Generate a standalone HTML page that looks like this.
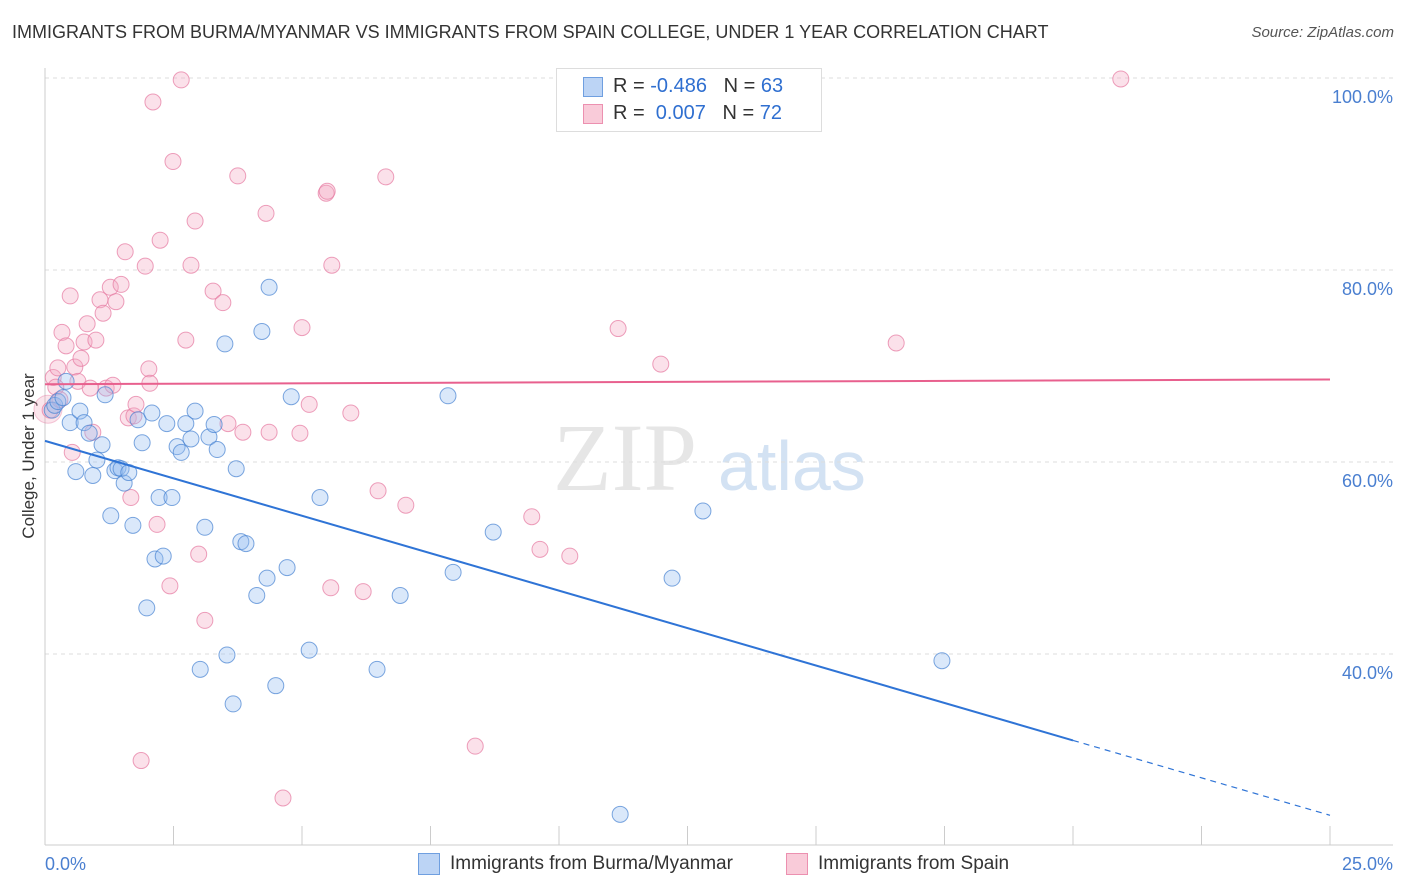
<!DOCTYPE html>
<html><head><meta charset="utf-8"><style>
body{margin:0;background:#fff;font-family:"Liberation Sans",sans-serif;}
#wrap{position:relative;width:1406px;height:892px;overflow:hidden;}
.t{position:absolute;white-space:nowrap;}
</style></head><body>
<div id="wrap">
<div class="t" style="left:12px;top:22px;font-size:18px;color:#333;">IMMIGRANTS FROM BURMA/MYANMAR VS IMMIGRANTS FROM SPAIN COLLEGE, UNDER 1 YEAR CORRELATION CHART</div>
<div class="t" style="right:12px;top:24px;font-size:15px;color:#555;font-style:italic;">Source: ZipAtlas.com</div>
<svg id="svg" width="1406" height="892" style="position:absolute;left:0;top:0"></svg>
</div>
<script>
const yTicks=[100,80,60,40];
const xTickLabels=["0.0%","25.0%"];
const blueX=[0.14,0.19,0.25,0.35,0.41,0.49,0.6,0.68,0.76,0.86,0.93,1.01,1.11,1.17,1.28,1.36,1.42,1.48,1.54,1.63,1.71,1.81,1.89,1.98,2.08,2.14,2.22,2.3,2.37,2.47,2.57,2.65,2.74,2.84,2.92,3.02,3.11,3.19,3.29,3.35,3.54,3.5,3.66,3.72,3.81,3.91,4.12,4.22,4.32,4.36,4.49,4.71,4.79,5.14,5.35,6.46,6.91,7.84,7.94,8.72,11.19,12.2,12.8,17.45];
const blueY=[65.4,65.9,66.3,66.7,68.4,64.1,59.0,65.3,64.1,63.0,58.6,60.2,61.8,67.0,54.4,59.1,59.4,59.3,57.8,58.9,53.4,64.4,62.0,44.8,65.1,49.9,56.3,50.2,64.0,56.3,61.6,61.0,64.0,62.4,65.3,38.4,53.2,62.6,63.9,61.3,39.9,72.3,34.8,59.3,51.7,51.5,46.1,73.6,47.9,78.2,36.7,49.0,66.8,40.4,56.3,38.4,46.1,66.9,48.5,52.7,23.3,47.9,54.9,39.3];
const pinkX=[0.1,0.16,0.21,0.25,0.29,0.33,0.41,0.49,0.53,0.58,0.64,0.7,0.76,0.82,0.88,0.93,0.99,1.07,1.13,1.19,1.27,1.32,1.38,1.48,1.56,1.62,1.67,1.73,1.77,1.87,1.95,2.02,2.04,2.1,2.18,2.24,2.43,2.49,2.65,2.74,2.84,2.92,2.99,3.11,3.27,3.46,3.56,3.75,3.85,4.3,4.36,4.63,4.96,5.0,5.14,5.47,5.49,5.56,5.58,5.95,6.19,6.48,6.63,7.02,8.37,9.47,9.63,10.21,11.15,11.98,16.56,20.93];
const pinkY=[65.4,68.8,67.8,69.8,66.5,73.5,72.1,77.3,61.0,69.9,68.4,70.8,72.5,74.4,67.7,63.1,72.7,76.9,75.5,67.7,78.2,68.0,76.7,78.5,81.9,64.6,56.3,64.8,66.0,28.9,80.4,69.7,68.2,97.5,53.5,83.1,47.1,91.3,99.8,72.7,80.5,85.1,50.4,43.5,77.8,76.6,64.0,89.8,63.1,85.9,63.1,25.0,63.0,74.0,66.0,88.0,88.2,46.9,80.5,65.1,46.5,57.0,89.7,55.5,30.4,54.3,50.9,50.2,73.9,70.2,72.4,99.9];
const blueTrend=[62.2,23.2], pinkTrend=[68.1,68.6];
const X0=45,X1=1330,XMAX=25;
const xs=v=>X0+(v/XMAX)*(X1-X0);
const ys=v=>270+(80-v)*9.6;
const svg=document.getElementById('svg');
const NS='http://www.w3.org/2000/svg';
function el(tag,attrs,parent){const e=document.createElementNS(NS,tag);for(const k in attrs)e.setAttribute(k,attrs[k]);(parent||svg).appendChild(e);return e;}
const wm=el('text',{x:553,y:490,'font-size':96,'font-family':'Liberation Serif,serif',fill:'#e6e6e6'});wm.textContent='ZIP';


const wm2=el('text',{x:718,y:490,'font-size':70,'font-family':'Liberation Sans,sans-serif',fill:'#d3e2f3'});wm2.textContent='atlas';


yTicks.forEach(v=>{
 const l=el('line',{x1:X0,x2:1393,y1:ys(v),y2:ys(v),stroke:'#ddd','stroke-dasharray':'4,4'});
 
 
 const t=el('text',{x:1393,y:ys(v)+25,'text-anchor':'end','font-size':18,fill:'#4a7fd0'});t.textContent=v.toFixed(1)+'%';
 
 
});
const ax=el('line',{x1:X0,x2:X0,y1:68,y2:845,stroke:'#ccc'});


const bx=el('line',{x1:X0,x2:1393,y1:845,y2:845,stroke:'#ccc'});


for(let i=0;i<=10;i++){const tk=el('line',{x1:xs(i*2.5),x2:xs(i*2.5),y1:826,y2:845,stroke:'#ccc'});

}
const xl0=el('text',{x:45,y:870,'font-size':18,fill:'#4a7fd0'});xl0.textContent=xTickLabels[0];


const xl1=el('text',{x:1393,y:870,'text-anchor':'end','font-size':18,fill:'#4a7fd0'});xl1.textContent=xTickLabels[1];


const yt=el('text',{x:34,y:456,'font-size':17,fill:'#333','text-anchor':'middle',transform:'rotate(-90 34 456)'});yt.textContent='College, Under 1 year';


const bb1=el('circle',{cx:48,cy:ys(65.5),r:14,fill:'rgba(240,150,180,0.25)',stroke:'rgba(230,120,160,0.4)'});


pinkX.forEach((x,i)=>{const c=el('circle',{cx:xs(x),cy:ys(pinkY[i]),r:8,fill:'rgba(244,170,195,0.35)',stroke:'rgba(230,120,160,0.7)','stroke-width':1});

});
blueX.forEach((x,i)=>{const c=el('circle',{cx:xs(x),cy:ys(blueY[i]),r:8,fill:'rgba(150,190,240,0.35)',stroke:'rgba(70,130,210,0.7)','stroke-width':1});

});
const bSolidEnd=20;
const bAt=v=>blueTrend[0]+(blueTrend[1]-blueTrend[0])*v/XMAX;
const tl1=el('line',{x1:xs(0),y1:ys(bAt(0)),x2:xs(bSolidEnd),y2:ys(bAt(bSolidEnd)),stroke:'#2f74d6','stroke-width':2});


const tl2=el('line',{x1:xs(bSolidEnd),y1:ys(bAt(bSolidEnd)),x2:xs(25),y2:ys(bAt(25)),stroke:'#2f74d6','stroke-width':1.2,'stroke-dasharray':'6,5'});


const tl3=el('line',{x1:xs(0),y1:ys(pinkTrend[0]),x2:xs(25),y2:ys(pinkTrend[1]),stroke:'#e8608e','stroke-width':2});


</script>
<div class="t" style="left:556px;top:68px;width:264px;height:62px;border:1px solid #ddd;background:#fff;">
 <div class="t" style="left:26px;top:8px;width:18px;height:18px;background:#bcd4f5;border:1px solid #6f9fe0;"></div>
 <div class="t" style="left:56px;top:6px;font-size:20px;color:#333;">R = <span style="color:#2f6fd0">-0.486</span>&nbsp;&nbsp;&nbsp;N = <span style="color:#2f6fd0">63</span></div>
 <div class="t" style="left:26px;top:35px;width:18px;height:18px;background:#f9cbd9;border:1px solid #ec90b0;"></div>
 <div class="t" style="left:56px;top:33px;font-size:20px;color:#333;">R = &nbsp;<span style="color:#2f6fd0">0.007</span>&nbsp;&nbsp;&nbsp;N = <span style="color:#2f6fd0">72</span></div>
</div>
<div class="t" style="left:418px;top:853px;width:20px;height:20px;background:#bcd4f5;border:1px solid #6f9fe0;"></div>
<div class="t" style="left:450px;top:853px;font-size:19px;color:#333;">Immigrants from Burma/Myanmar</div>
<div class="t" style="left:786px;top:853px;width:20px;height:20px;background:#f9cbd9;border:1px solid #ec90b0;"></div>
<div class="t" style="left:818px;top:853px;font-size:19px;color:#333;">Immigrants from Spain</div>
</body></html>
